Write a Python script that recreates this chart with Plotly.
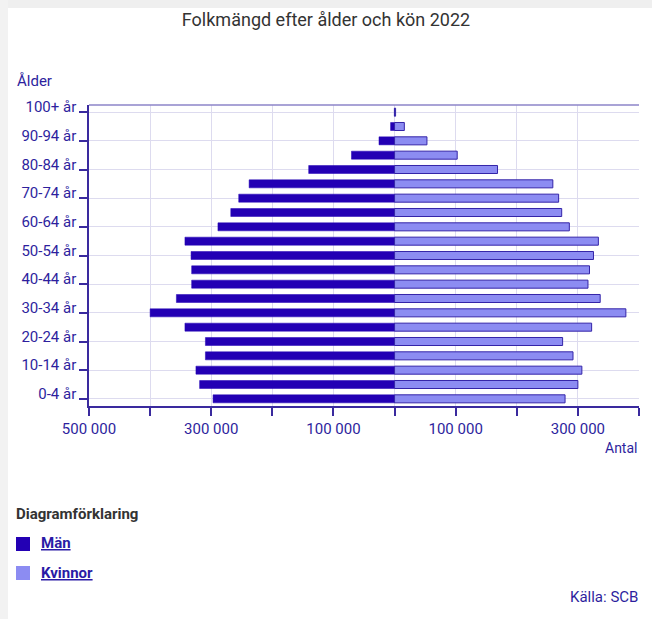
import plotly.graph_objects as go

age_groups = ["0-4 år", "5-9 år", "10-14 år", "15-19 år", "20-24 år", "25-29 år",
              "30-34 år", "35-39 år", "40-44 år", "45-49 år", "50-54 år", "55-59 år",
              "60-64 år", "65-69 år", "70-74 år", "75-79 år", "80-84 år", "85-89 år",
              "90-94 år", "95-99 år", "100+ år"]
men = [297000, 319000, 325000, 309500, 309500, 343000, 400000, 357000, 332000, 332000,
       333000, 343000, 289000, 268000, 255000, 238000, 140500, 70500, 25500, 6500, 400]
women = [279000, 300000, 306500, 292000, 275000, 322500, 378500, 336500, 316500, 319000,
         325500, 333500, 286000, 273500, 268500, 259000, 168500, 102500, 53000, 16000, 1700]
y_tick_labels = age_groups[::2]
x_tick_vals = [-500000, -400000, -300000, -200000, -100000, 0, 100000, 200000, 300000, 400000]
x_tick_text = ["500 000", "", "300 000", "", "100 000", "", "100 000", "", "300 000", ""]

W, H = 652, 619
ML, MR, MT, MB = 89, 13, 105, 213
PW, PH = W - ML - MR, H - MT - MB

def px(x):
    return (x - ML) / PW

def py(y):
    return (H - MB - y) / PH

DARK = "#2300b4"
LIGHT = "#8c8cf2"
EDGE = "#3424a8"
TXT = "#2e1f9e"
GRID = "#dddbef"
AX = "#3a2a9e"
FONT = "Roboto, 'Noto Sans', sans-serif"

fig = go.Figure()
fig.add_trace(go.Bar(y=age_groups, x=[-v for v in men], orientation="h", name="Män",
                     marker=dict(color=DARK, line=dict(color=DARK, width=0.5))))
fig.add_trace(go.Bar(y=age_groups, x=women, orientation="h", name="Kvinnor",
                     marker=dict(color=LIGHT, line=dict(color=EDGE, width=1))))

shapes = [
    # grey page edges
    dict(type="rect", xref="paper", yref="paper", x0=px(0), x1=px(W), y0=py(0), y1=py(8),
         fillcolor="#efefef", line=dict(width=0), layer="below"),
    dict(type="rect", xref="paper", yref="paper", x0=px(0), x1=px(8), y0=py(0), y1=py(H),
         fillcolor="#f2f2f2", line=dict(width=0), layer="below"),
    # top frame line
    dict(type="line", xref="paper", yref="paper", x0=0, x1=1, y0=1, y1=1,
         line=dict(color="#8d84c8", width=1.5)),
    # legend squares
    dict(type="rect", xref="paper", yref="paper", x0=px(16), x1=px(30), y0=py(551), y1=py(537),
         fillcolor=DARK, line=dict(width=0)),
    dict(type="rect", xref="paper", yref="paper", x0=px(16), x1=px(30), y0=py(580), y1=py(566),
         fillcolor=LIGHT, line=dict(width=0)),
]

annotations = [
    dict(text="Ålder", x=px(15), y=py(80.5), xref="paper", yref="paper", xanchor="left",
         yanchor="middle", showarrow=False, font=dict(size=15, color=TXT, family=FONT)),
    dict(text="Antal", x=px(639), y=py(448), xref="paper", yref="paper", xanchor="right",
         yanchor="middle", showarrow=False, font=dict(size=14, color=TXT, family=FONT)),
    dict(text="<b>Diagramförklaring</b>", x=px(14), y=py(513.5), xref="paper", yref="paper",
         xanchor="left", yanchor="middle", showarrow=False,
         font=dict(size=15, color="#333333", family=FONT)),
    dict(text="<b>Män</b>", x=px(39), y=py(543), xref="paper", yref="paper",
         xanchor="left", yanchor="middle", showarrow=False,
         font=dict(size=15, color="#2a1aa6", family=FONT, lineposition="under")),
    dict(text="<b>Kvinnor</b>", x=px(39), y=py(573), xref="paper", yref="paper",
         xanchor="left", yanchor="middle", showarrow=False,
         font=dict(size=15, color="#2a1aa6", family=FONT, lineposition="under")),
    dict(text="Källa: SCB", x=px(640), y=py(597), xref="paper", yref="paper",
         xanchor="right", yanchor="middle", showarrow=False,
         font=dict(size=15, color=TXT, family=FONT)),
]

fig.update_layout(
    width=W, height=H,
    margin=dict(l=ML, r=MR, t=MT, b=MB, pad=0),
    paper_bgcolor="white", plot_bgcolor="white",
    barmode="relative", bargap=0.44,
    showlegend=False,
    font=dict(family=FONT, size=15, color=TXT),
    title=dict(text="Folkmängd efter ålder och kön 2022", x=0.5, xanchor="center",
               y=1 - 20 / H, yanchor="middle", yref="container",
               font=dict(size=18, color="#333333", family=FONT)),
    shapes=shapes, annotations=annotations,
    xaxis=dict(range=[-500000, 400000], tickmode="array", tickvals=x_tick_vals,
               ticktext=x_tick_text, showgrid=True, gridcolor=GRID, gridwidth=1,
               zeroline=False, showline=True, linecolor=AX, linewidth=1.5,
               ticks="outside", ticklen=8, tickcolor=AX, tickwidth=1.5,
               tickfont=dict(size=15, color=TXT, family=FONT), fixedrange=True),
    yaxis=dict(type="category", categoryorder="array", categoryarray=age_groups,
               range=[-0.5, 20.5], tickmode="array", tickvals=y_tick_labels,
               ticktext=y_tick_labels, showgrid=True, gridcolor=GRID, gridwidth=1,
               showline=True, linecolor=AX, linewidth=1.5,
               ticks="outside", ticklen=8, tickcolor=AX, tickwidth=1.5,
               ticklabelshift=-5,
               tickfont=dict(size=15, color=TXT, family=FONT), fixedrange=True),
)

fig.write_html("out.html",
               config={"displayModeBar": False},
               post_script="document.body.style.margin='0';document.body.style.overflow='hidden';")
